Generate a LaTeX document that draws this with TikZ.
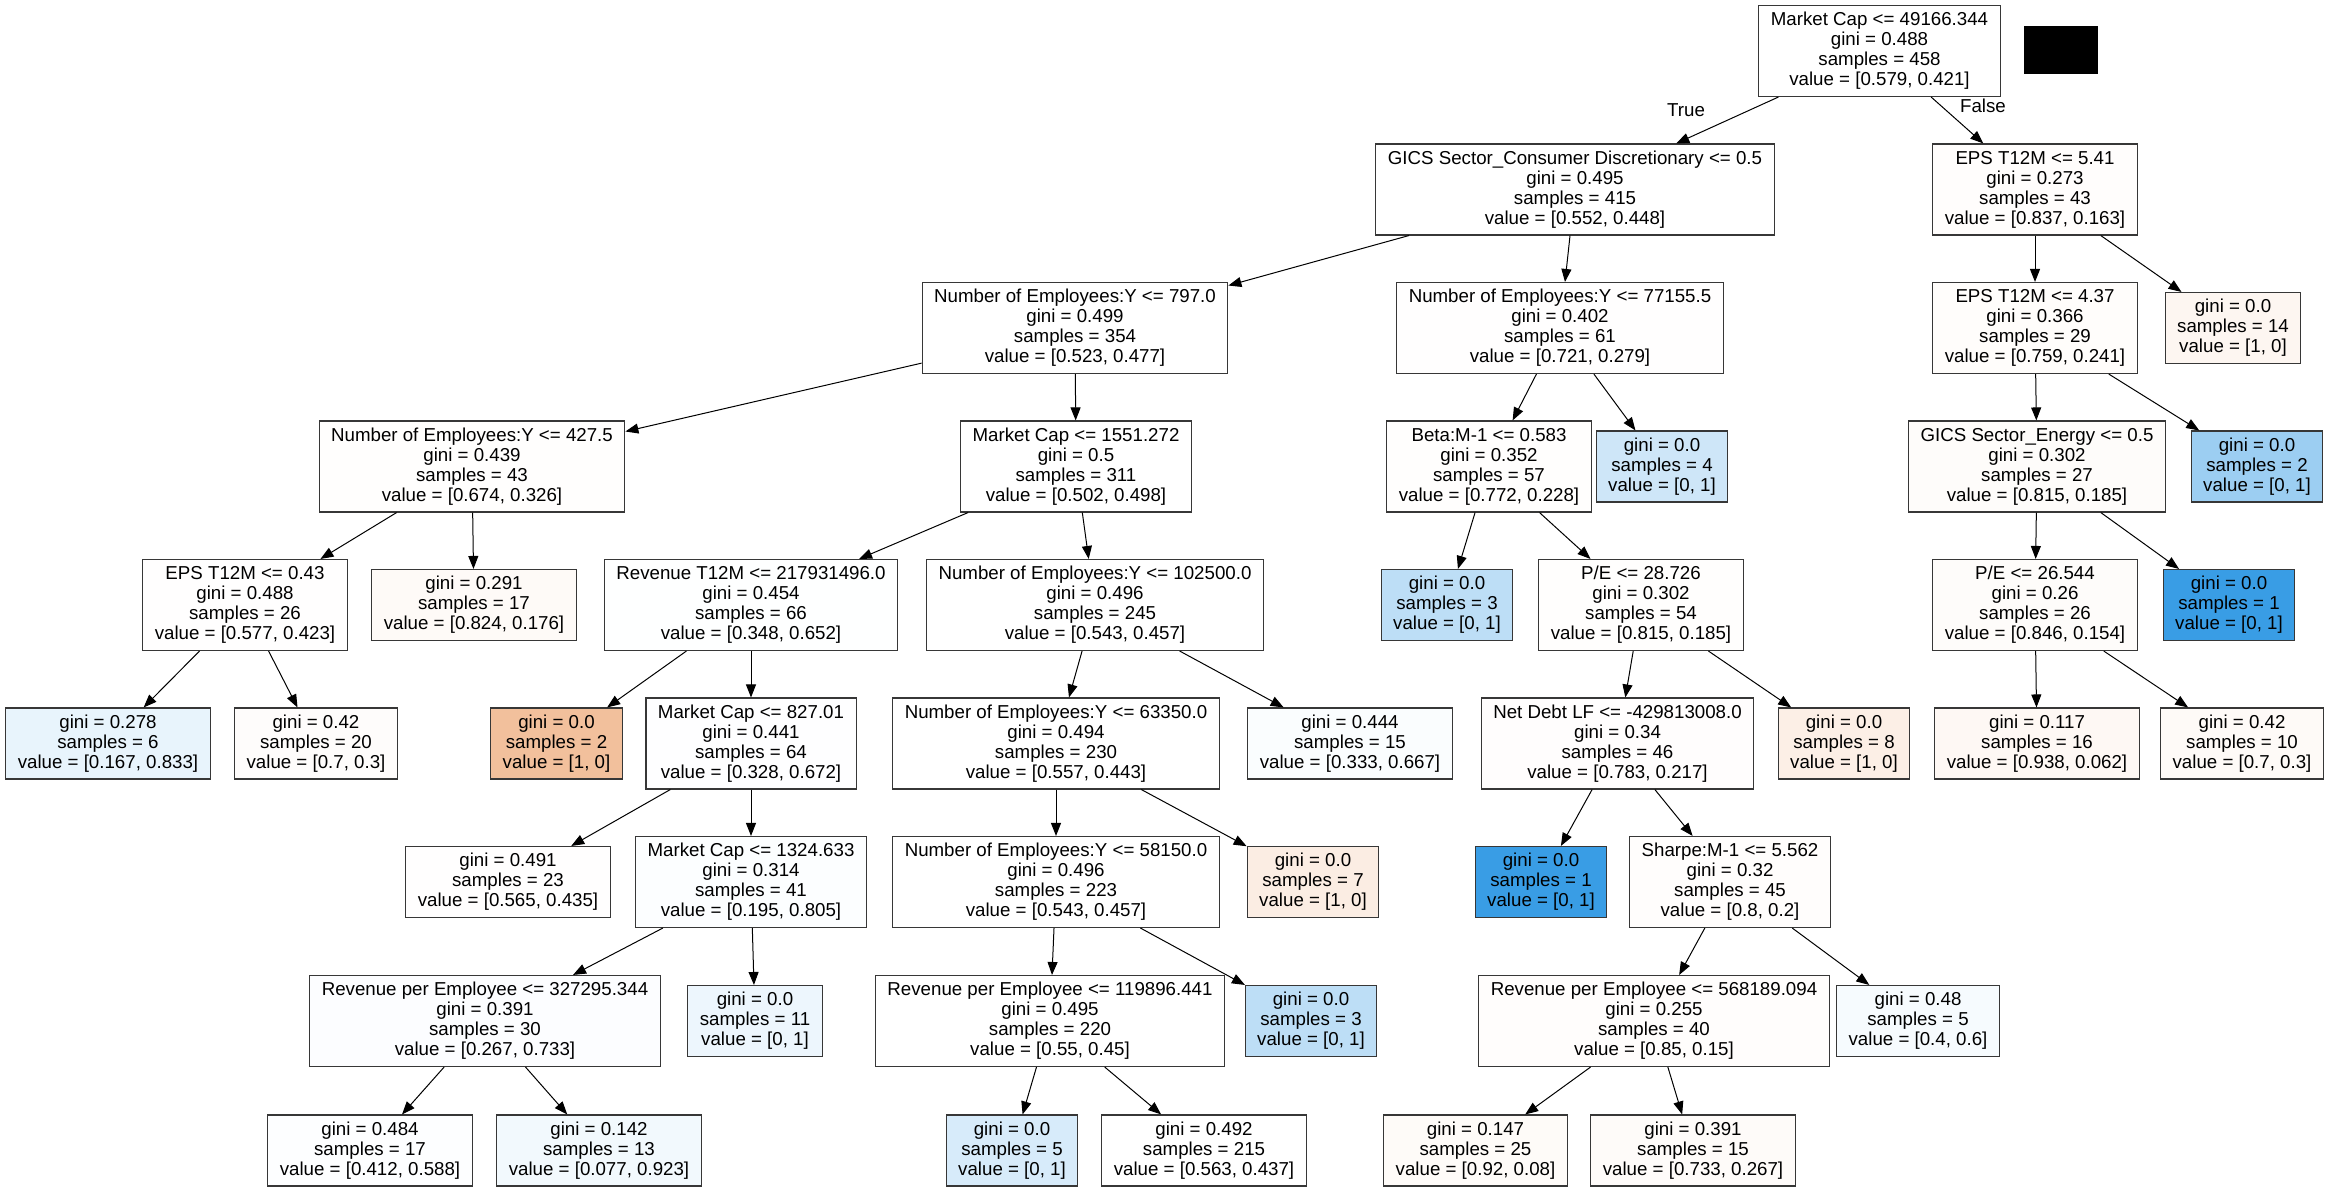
\documentclass[tikz,border=0pt]{standalone}
\usepackage{fontspec}
\setmainfont{Liberation Sans}
\usetikzlibrary{arrows.meta}
\definecolor{bord}{RGB}{55,55,55}
\definecolor{cB}{RGB}{255,253,252}
\definecolor{cD}{RGB}{255,254,254}
\definecolor{cE}{RGB}{255,253,251}
\definecolor{cF}{RGB}{253,246,241}
\definecolor{cG}{RGB}{255,254,253}
\definecolor{cI}{RGB}{255,254,253}
\definecolor{cJ}{RGB}{206,230,248}
\definecolor{cK}{RGB}{254,252,250}
\definecolor{cL}{RGB}{156,206,242}
\definecolor{cM}{RGB}{255,254,254}
\definecolor{cN}{RGB}{254,250,247}
\definecolor{cO}{RGB}{254,255,255}
\definecolor{cQ}{RGB}{189,222,246}
\definecolor{cR}{RGB}{255,254,253}
\definecolor{cS}{RGB}{254,252,250}
\definecolor{cT}{RGB}{57,157,229}
\definecolor{cU}{RGB}{232,244,252}
\definecolor{cV}{RGB}{254,252,251}
\definecolor{cW}{RGB}{242,192,156}
\definecolor{cX}{RGB}{254,254,255}
\definecolor{cZ}{RGB}{250,253,254}
\definecolor{cAA}{RGB}{255,253,253}
\definecolor{cAB}{RGB}{252,239,230}
\definecolor{cAC}{RGB}{254,248,244}
\definecolor{cAD}{RGB}{254,250,247}
\definecolor{cAE}{RGB}{255,254,254}
\definecolor{cAF}{RGB}{252,254,255}
\definecolor{cAH}{RGB}{251,237,227}
\definecolor{cAI}{RGB}{57,157,229}
\definecolor{cAJ}{RGB}{255,253,252}
\definecolor{cAK}{RGB}{252,253,255}
\definecolor{cAL}{RGB}{237,246,253}
\definecolor{cAN}{RGB}{189,222,246}
\definecolor{cAO}{RGB}{255,253,252}
\definecolor{cAP}{RGB}{246,251,254}
\definecolor{cAQ}{RGB}{253,254,255}
\definecolor{cAR}{RGB}{242,249,253}
\definecolor{cAS}{RGB}{215,235,250}
\definecolor{cAU}{RGB}{254,251,248}
\definecolor{cAV}{RGB}{254,251,249}
\begin{document}
\begin{tikzpicture}[x=1pt,y=-1pt,
  tbox/.style={draw=bord, fill=white, line width=1.1pt, rectangle, align=center,
    font=\fontsize{18.7pt}{20pt}\selectfont, inner xsep=12pt, inner ysep=2pt,
    minimum height=91pt},
  leaf/.style={tbox, minimum height=71pt},
  tedge/.style={line width=1pt, -{Triangle[length=13pt,width=10pt]}},
  elabel/.style={font=\fontsize{18.7pt}{20pt}\selectfont, inner sep=0pt}]
\fill[white] (0,0) rectangle (2331,1191);
\useasboundingbox (0,0) rectangle (2331,1191);

% rank 0
\node[tbox] (root) at (1879.5,51) {Market Cap <= 49166.344\\gini = 0.488\\samples = 458\\value = [0.579, 0.421]};
\fill[black] (2024,26) rectangle (2098,74);
% rank 1
\node[tbox] (A) at (1575,189.5) {GICS Sector\_Consumer Discretionary <= 0.5\\gini = 0.495\\samples = 415\\value = [0.552, 0.448]};
\node[tbox, fill=cB] (B) at (2035,189.5) {EPS T12M <= 5.41\\gini = 0.273\\samples = 43\\value = [0.837, 0.163]};
% rank 2
\node[tbox] (C) at (1075,328) {Number of Employees:Y <= 797.0\\gini = 0.499\\samples = 354\\value = [0.523, 0.477]};
\node[tbox, fill=cD] (D) at (1560,328) {Number of Employees:Y <= 77155.5\\gini = 0.402\\samples = 61\\value = [0.721, 0.279]};
\node[tbox, fill=cE] (E) at (2035,328) {EPS T12M <= 4.37\\gini = 0.366\\samples = 29\\value = [0.759, 0.241]};
\node[leaf, fill=cF] (F) at (2233,328) {gini = 0.0\\samples = 14\\value = [1, 0]};
% rank 3
\node[tbox, fill=cG] (G) at (472,466.5) {Number of Employees:Y <= 427.5\\gini = 0.439\\samples = 43\\value = [0.674, 0.326]};
\node[tbox] (H) at (1076,466.5) {Market Cap <= 1551.272\\gini = 0.5\\samples = 311\\value = [0.502, 0.498]};
\node[tbox, fill=cI] (I) at (1489,466.5) {Beta:M-1 <= 0.583\\gini = 0.352\\samples = 57\\value = [0.772, 0.228]};
\node[leaf, fill=cJ] (J) at (1662,466.5) {gini = 0.0\\samples = 4\\value = [0, 1]};
\node[tbox, fill=cK] (K) at (2037,466.5) {GICS Sector\_Energy <= 0.5\\gini = 0.302\\samples = 27\\value = [0.815, 0.185]};
\node[leaf, fill=cL] (L) at (2257,466.5) {gini = 0.0\\samples = 2\\value = [0, 1]};
% rank 4
\node[tbox, fill=cM] (M) at (245,605) {EPS T12M <= 0.43\\gini = 0.488\\samples = 26\\value = [0.577, 0.423]};
\node[leaf, fill=cN] (N) at (474,605) {gini = 0.291\\samples = 17\\value = [0.824, 0.176]};
\node[tbox, fill=cO] (O) at (751,605) {Revenue T12M <= 217931496.0\\gini = 0.454\\samples = 66\\value = [0.348, 0.652]};
\node[tbox] (P) at (1095,605) {Number of Employees:Y <= 102500.0\\gini = 0.496\\samples = 245\\value = [0.543, 0.457]};
\node[leaf, fill=cQ] (Q) at (1447,605) {gini = 0.0\\samples = 3\\value = [0, 1]};
\node[tbox, fill=cR] (R) at (1641,605) {P/E <= 28.726\\gini = 0.302\\samples = 54\\value = [0.815, 0.185]};
\node[tbox, fill=cS] (S) at (2035,605) {P/E <= 26.544\\gini = 0.26\\samples = 26\\value = [0.846, 0.154]};
\node[leaf, fill=cT] (T) at (2229,605) {gini = 0.0\\samples = 1\\value = [0, 1]};
% rank 5
\node[leaf, fill=cU] (U) at (108,743.5) {gini = 0.278\\samples = 6\\value = [0.167, 0.833]};
\node[leaf, fill=cV] (V) at (316,743.5) {gini = 0.42\\samples = 20\\value = [0.7, 0.3]};
\node[leaf, fill=cW] (W) at (556.5,743.5) {gini = 0.0\\samples = 2\\value = [1, 0]};
\node[tbox, fill=cX] (X) at (751,743.5) {Market Cap <= 827.01\\gini = 0.441\\samples = 64\\value = [0.328, 0.672]};
\node[tbox] (Y) at (1056,743.5) {Number of Employees:Y <= 63350.0\\gini = 0.494\\samples = 230\\value = [0.557, 0.443]};
\node[leaf, fill=cZ] (Z) at (1350,743.5) {gini = 0.444\\samples = 15\\value = [0.333, 0.667]};
\node[tbox, fill=cAA] (AA) at (1617.5,743.5) {Net Debt LF <= -429813008.0\\gini = 0.34\\samples = 46\\value = [0.783, 0.217]};
\node[leaf, fill=cAB] (AB) at (1844,743.5) {gini = 0.0\\samples = 8\\value = [1, 0]};
\node[leaf, fill=cAC] (AC) at (2037,743.5) {gini = 0.117\\samples = 16\\value = [0.938, 0.062]};
\node[leaf, fill=cAD] (AD) at (2242,743.5) {gini = 0.42\\samples = 10\\value = [0.7, 0.3]};
% rank 6
\node[leaf, fill=cAE] (AE) at (508,882) {gini = 0.491\\samples = 23\\value = [0.565, 0.435]};
\node[tbox, fill=cAF] (AF) at (751,882) {Market Cap <= 1324.633\\gini = 0.314\\samples = 41\\value = [0.195, 0.805]};
\node[tbox] (AG) at (1056,882) {Number of Employees:Y <= 58150.0\\gini = 0.496\\samples = 223\\value = [0.543, 0.457]};
\node[leaf, fill=cAH] (AH) at (1313,882) {gini = 0.0\\samples = 7\\value = [1, 0]};
\node[leaf, fill=cAI] (AI) at (1541,882) {gini = 0.0\\samples = 1\\value = [0, 1]};
\node[tbox, fill=cAJ] (AJ) at (1730,882) {Sharpe:M-1 <= 5.562\\gini = 0.32\\samples = 45\\value = [0.8, 0.2]};
% rank 7
\node[tbox, fill=cAK] (AK) at (485,1021) {Revenue per Employee <= 327295.344\\gini = 0.391\\samples = 30\\value = [0.267, 0.733]};
\node[leaf, fill=cAL] (AL) at (755,1021) {gini = 0.0\\samples = 11\\value = [0, 1]};
\node[tbox] (AM) at (1050,1021) {Revenue per Employee <= 119896.441\\gini = 0.495\\samples = 220\\value = [0.55, 0.45]};
\node[leaf, fill=cAN] (AN) at (1311,1021) {gini = 0.0\\samples = 3\\value = [0, 1]};
\node[tbox, fill=cAO] (AO) at (1654,1021) {Revenue per Employee <= 568189.094\\gini = 0.255\\samples = 40\\value = [0.85, 0.15]};
\node[leaf, fill=cAP] (AP) at (1918,1021) {gini = 0.48\\samples = 5\\value = [0.4, 0.6]};
% rank 8
\node[leaf, fill=cAQ] (AQ) at (370,1150.5) {gini = 0.484\\samples = 17\\value = [0.412, 0.588]};
\node[leaf, fill=cAR] (AR) at (599,1150.5) {gini = 0.142\\samples = 13\\value = [0.077, 0.923]};
\node[leaf, fill=cAS] (AS) at (1012,1150.5) {gini = 0.0\\samples = 5\\value = [0, 1]};
\node[leaf] (AT) at (1204,1150.5) {gini = 0.492\\samples = 215\\value = [0.563, 0.437]};
\node[leaf, fill=cAU] (AU) at (1475.5,1150.5) {gini = 0.147\\samples = 25\\value = [0.92, 0.08]};
\node[leaf, fill=cAV] (AV) at (1693,1150.5) {gini = 0.391\\samples = 15\\value = [0.733, 0.267]};

% edges
\draw[tedge] (root) -- (A);
\draw[tedge] (root) -- (B);
\node[elabel] (tlab) at (1686,110) {True};
\node[elabel] (flab) at (1983,106) {False};
\foreach \p/\c in {A/C,A/D,B/E,B/F,C/G,C/H,D/I,D/J,E/K,E/L,G/M,G/N,H/O,H/P,I/Q,I/R,K/S,K/T,
  M/U,M/V,O/W,O/X,P/Y,P/Z,R/AA,R/AB,S/AC,S/AD,X/AE,X/AF,Y/AG,Y/AH,AA/AI,AA/AJ,
  AF/AK,AF/AL,AG/AM,AG/AN,AJ/AO,AJ/AP,AK/AQ,AK/AR,AM/AS,AM/AT,AO/AU,AO/AV}
  {\draw[tedge] (\p) -- (\c);}
\end{tikzpicture}
\end{document}
